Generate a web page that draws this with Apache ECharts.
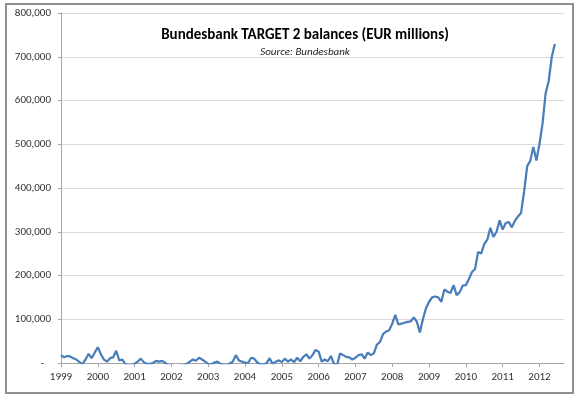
<!DOCTYPE html>
<html>
<head>
<meta charset="utf-8">
<script src="https://cdn.jsdelivr.net/npm/echarts@6/dist/echarts.min.js"></script>
<style>
html, body { margin: 0; padding: 0; background: #fff; }
#chart { width: 580px; height: 399px; }
</style>
</head>
<body>
<div id="chart"></div>
<script>
// year labels on the x axis, monthly observations
const years = ['1999', '2000', '2001', '2002', '2003', '2004', '2005', '2006', '2007', '2008', '2009', '2010', '2011', '2012'];
const axisLastMonth = '2012-09';

// TARGET2 balance, EUR millions, month by month
const b1999 = [18000, 13000, 16000, 15000, 11000, 8000, 2000, -2000, 8000, 21000, 11000, 24000];
const b2000 = [36000, 20000, 8000, 3000, 11000, 13000, 28000, 6000, 8000, -3000, -5000, -5000];
const b2001 = [-2000, 3000, 10000, 2000, -2000, -2000, 0, 5000, 3000, 5000, 0, -5000];
const b2002 = [-6000, -8000, -8000, -6000, -5000, -2000, 3000, 8000, 5000, 12000, 8000, 3000];
const b2003 = [-2000, -3000, 1000, 3000, -2000, -4000, -5000, -1000, 3000, 18000, 6000, 3000];
const b2004 = [1000, 0, 12000, 10000, 1000, -3000, -3000, -1000, 11000, -2000, 3000, 6000];
const b2005 = [2000, 10000, 3000, 8000, 2000, 12000, 4000, 14000, 20000, 10000, 18000, 30000];
const b2006 = [26000, 3000, 8000, 4000, 16000, -2000, -5000, 22000, 18000, 14000, 13000, 8000];
const b2007 = [12000, 18000, 20000, 10000, 24000, 18000, 22000, 42000, 48000, 66000, 72000, 75000];
const b2008 = [90000, 110000, 88000, 90000, 92000, 94000, 95000, 104000, 95000, 70000, 100000, 125000];
const b2009 = [140000, 150000, 152000, 150000, 140000, 168000, 163000, 160000, 178000, 155000, 162000, 177000];
const b2010 = [178000, 192000, 208000, 215000, 254000, 250000, 272000, 282000, 309000, 288000, 300000, 326000];
const b2011 = [305000, 320000, 322000, 310000, 325000, 335000, 343000, 392000, 450000, 462000, 494000, 463000];
const b2012 = [500000, 547000, 616000, 644000, 699000, 729000];

const balances = [].concat(b1999, b2000, b2001, b2002, b2003, b2004, b2005, b2006, b2007,
    b2008, b2009, b2010, b2011, b2012);

let months = [];
years.forEach(y => {
    for (let m = 1; m <= 12; m++) months.push(y + '-' + (m < 10 ? '0' + m : m));
});
months = months.slice(0, months.indexOf(axisLastMonth) + 1);

const FONT = 'Carlito, Lato, sans-serif';
const isJan = (i) => i % 12 === 0;

let chart = echarts.init(document.getElementById('chart'), null, {renderer: 'canvas'});
chart.setOption({
    animation: false,
    backgroundColor: '#fff',
    title: {
        text: 'Bundesbank TARGET 2 balances (EUR millions)',
        subtext: 'Source: Bundesbank',
        left: 300, top: 23, textAlign: 'center', itemGap: 4,
        textStyle: {fontFamily: FONT, fontSize: 15, fontWeight: 'bold', color: '#000'},
        subtextStyle: {fontFamily: FONT, fontSize: 11, fontStyle: 'italic', color: '#222'}
    },
    graphic: [{
        type: 'rect', silent: true, z: -1,
        shape: {x: 6, y: 4, width: 567, height: 389},
        style: {fill: 'none', stroke: '#8f8f8f', lineWidth: 2}
    }],
    grid: {left: 61, right: 16, top: 13, bottom: 36, containLabel: false},
    xAxis: {
        type: 'category', data: months, boundaryGap: false,
        axisLine: {lineStyle: {color: '#a6a6a6', width: 1}},
        axisTick: {interval: (i) => isJan(i), length: 4, lineStyle: {color: '#a6a6a6'}},
        axisLabel: {
            interval: (i) => isJan(i), margin: 9,
            formatter: (v) => v.slice(0, 4),
            fontFamily: FONT, fontSize: 11, color: '#333'
        },
        splitLine: {show: false}
    },
    yAxis: {
        type: 'value', min: 0, max: 800000, interval: 100000,
        axisLine: {show: true, lineStyle: {color: '#a6a6a6', width: 1}},
        axisTick: {show: true, length: 3, lineStyle: {color: '#a6a6a6'}},
        axisLabel: {
            margin: 10, fontFamily: FONT, fontSize: 11, color: '#333',
            formatter: (v) => v === 0 ? '{d|-}' : v.toLocaleString('en-US'),
            rich: {d: {padding: [0, 7, 0, 0], fontFamily: FONT, fontSize: 11, color: '#333'}}
        },
        splitLine: {lineStyle: {color: '#d9d9d9', width: 1}}
    },
    series: [{
        type: 'line', name: 'TARGET2 balance', data: balances,
        showSymbol: false, symbol: 'none', clip: true,
        lineStyle: {color: '#4a7ebb', width: 2.25},
        itemStyle: {color: '#4a7ebb'}
    }]
});
</script>
</body>
</html>
